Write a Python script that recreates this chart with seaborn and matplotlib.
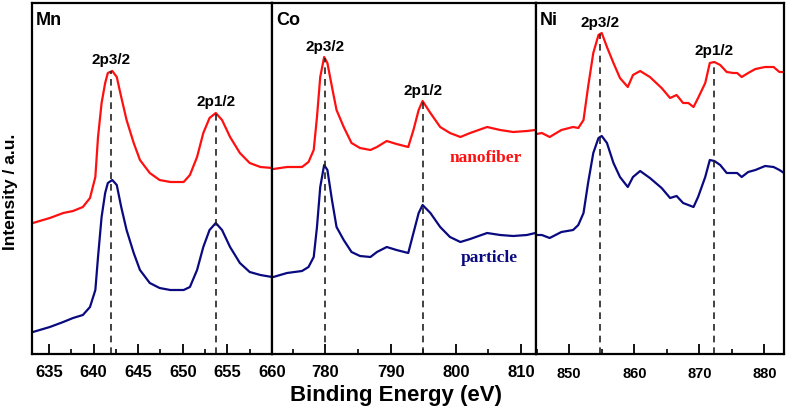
import numpy as np
import pandas as pd
import matplotlib
matplotlib.use("Agg")
import matplotlib.pyplot as plt
import seaborn as sns
from matplotlib.ticker import MultipleLocator

sns.set_theme(style="white")
plt.rcParams['font.family'] = ['Liberation Sans', 'DejaVu Sans']
plt.rcParams['text.color'] = 'black'
plt.rcParams['xtick.color'] = 'black'
plt.rcParams['axes.labelcolor'] = 'black'

# ---------------- data ----------------
mn_x = [633.2, 635.1, 636.6, 637.7, 638.8, 639.6, 640.2, 640.5, 640.9, 641.3,
        641.6, 642.1, 642.6, 643.1, 643.7, 644.5, 645.2, 646.3, 647.4, 648.6,
        650.1, 650.8, 651.6, 652.3, 653.0, 653.7, 654.4, 655.3, 656.4, 657.5,
        658.7, 660.0]
mn_nano = [131, 136, 141, 143, 147, 156, 177, 217, 251, 271,
           281, 283, 277, 257, 234, 211, 194, 181, 174, 172,
           172, 179, 197, 221, 236, 241, 234, 217, 201, 191,
           187, 186]
mn_part = [22, 27, 32, 36, 39, 47, 64, 97, 137, 161,
           171, 174, 169, 147, 124, 101, 84, 71, 66, 64,
           64, 67, 84, 107, 124, 131, 124, 107, 91, 82,
           79, 77]

co_x = [772.0, 774.1, 776.4, 777.4, 778.2, 778.7, 779.2, 779.8, 780.3, 781.0,
        781.7, 782.8, 784.0, 785.3, 786.9, 787.9, 789.4, 790.9, 792.7, 793.5,
        794.3, 794.9, 796.1, 797.6, 799.1, 800.7, 802.2, 804.8, 806.8, 808.8,
        810.9, 812.2]
co_nano = [185, 187, 187, 192, 204, 237, 277, 297, 291, 267,
           244, 227, 211, 206, 204, 207, 213, 210, 207, 224,
           244, 253, 241, 227, 221, 217, 221, 227, 224, 222,
           223, 224]
co_part = [77, 81, 83, 87, 97, 127, 167, 189, 184, 154,
           127, 114, 102, 98, 97, 102, 107, 104, 101, 121,
           141, 149, 141, 127, 117, 112, 115, 121, 119, 118,
           119, 121]

ni_x = [845.0, 845.8, 847.0, 848.8, 850.6, 851.4, 852.2, 852.9, 853.7, 854.5,
        855.0, 855.8, 856.8, 857.8, 859.0, 859.8, 860.9, 862.4, 864.2, 865.5,
        866.5, 867.5, 868.3, 869.1, 869.8, 870.9, 871.6, 872.3, 873.2, 874.2,
        875.2, 875.8, 876.5, 877.5, 878.6, 880.1, 881.4, 882.3, 883.0]
ni_nano = [220, 221, 217, 224, 227, 226, 234, 267, 301, 319,
           321, 307, 291, 276, 267, 279, 283, 277, 266, 256,
           259, 251, 251, 247, 256, 271, 291, 292, 289, 282,
           281, 281, 277, 281, 285, 287, 287, 282, 282]
ni_part = [119, 119, 116, 122, 124, 129, 141, 171, 201, 216,
           218, 211, 191, 177, 167, 177, 183, 176, 166, 156,
           158, 151, 149, 147, 157, 177, 194, 193, 189, 181,
           181, 181, 177, 182, 184, 188, 187, 184, 181]

elements = ["Mn", "Co", "Ni"]
peak_labels = ["2p3/2", "2p1/2"]
mn_peaks = [642.0, 653.7]
co_peaks = [779.9, 795.0]
ni_peaks = [854.7, 872.3]
series_names = ["nanofiber", "particle"]

# ---------------- figure ----------------
W, H = 787, 413
fig = plt.figure(figsize=(W / 100, H / 100), dpi=100)

left_px = [32, 272, 536]
right_px = [272, 536, 784]
top_px, bot_px = 3, 354
xlims = [(633.1, 660.0), (771.8, 812.3), (844.9, 883.0)]
majors = [5, 10, 10]
minors = [2.5, 5, 5]
tick_fs = [12, 12, 10.5]

panels = [
    (mn_x, mn_nano, mn_part, mn_peaks),
    (co_x, co_nano, co_part, co_peaks),
    (ni_x, ni_nano, ni_part, ni_peaks),
]
palette = {"nanofiber": "#ff1010", "particle": "#0a0a80"}

axes = []
for i, (xs, yn, yp, peaks) in enumerate(panels):
    l = left_px[i] / W
    w = (right_px[i] - left_px[i]) / W
    b = 1 - bot_px / H
    h = (bot_px - top_px) / H
    ax = fig.add_axes([l, b, w, h])
    axes.append(ax)
    df = pd.DataFrame({
        "x": list(xs) * 2,
        "y": list(yn) + list(yp),
        "s": [series_names[0]] * len(xs) + [series_names[1]] * len(xs),
    })
    sns.lineplot(data=df, x="x", y="y", hue="s", palette=palette, ax=ax,
                 legend=False, linewidth=1.6, sort=False)
    ax.set_xlim(*xlims[i])
    ax.set_ylim(0, 351)
    ax.set_xlabel("")
    ax.set_ylabel("")
    ax.set_yticks([])
    ax.xaxis.set_major_locator(MultipleLocator(majors[i]))
    ax.xaxis.set_minor_locator(MultipleLocator(minors[i]))
    ax.tick_params(axis="x", which="major", direction="in", length=7, width=1.3,
                   bottom=True, top=False, pad=8 if i < 2 else 9,
                   labelsize=tick_fs[i], colors="black")
    ax.tick_params(axis="x", which="minor", direction="in", length=3.5, width=1.2,
                   bottom=True, top=False, colors="black")
    for lab in ax.get_xticklabels():
        lab.set_fontweight("bold")
    for sp in ax.spines.values():
        sp.set_color("black")
        sp.set_linewidth(1.6)
    # dashed peak markers and labels
    for j, px in enumerate(peaks):
        peak_y = float(np.interp(px, xs, yn))
        ax.plot([px, px], [0, peak_y], ls=(0, (4, 3)), color="#222222", lw=1.2)
        ax.annotate(peak_labels[j], (px, peak_y), xytext=(0, 3),
                    textcoords="offset points", ha="center", va="bottom",
                    fontsize=11, fontweight="bold", color="black")
    ax.text(0.015, 0.975, elements[i], transform=ax.transAxes, ha="left", va="top",
            fontsize=13, fontweight="bold", color="black")

axes[1].text(804.6, 196, "nanofiber", color=palette["nanofiber"], ha="center",
             va="center", fontsize=12.5, fontweight="bold", family="Liberation Serif")
axes[1].text(805.1, 96, "particle", color=palette["particle"], ha="center",
             va="center", fontsize=12.5, fontweight="bold", family="Liberation Serif")

fig.text(0.503, 0.042, "Binding Energy (eV)", ha="center", va="center",
         fontsize=16, fontweight="bold", color="black")
fig.text(0.013, 0.535, "Intensity / a.u.", ha="center", va="center", rotation=90,
         fontsize=12.5, fontweight="bold", color="black")

fig.savefig("out.png", dpi=100)
